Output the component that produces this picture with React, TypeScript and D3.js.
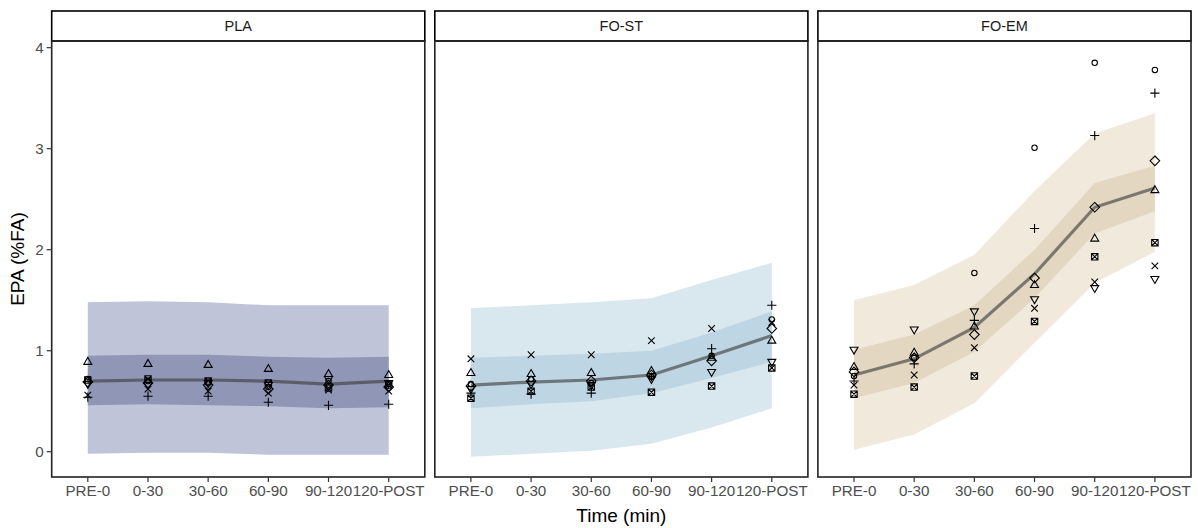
import React from "react";
import * as d3 from "d3";

const timeLabels = ["PRE-0", "0-30", "30-60", "60-90", "90-120", "120-POST"];
const groupNames = ["PLA", "FO-ST", "FO-EM"];
const yTicks = [0, 1, 2, 3, 4];

// model mean and intervals per group
const plaMean = [0.70, 0.71, 0.71, 0.70, 0.67, 0.70];
const plaInnerLo = [0.46, 0.47, 0.46, 0.45, 0.43, 0.44];
const plaInnerHi = [0.95, 0.96, 0.96, 0.94, 0.93, 0.94];
const plaOuterLo = [-0.02, -0.01, -0.01, -0.03, -0.03, -0.03];
const plaOuterHi = [1.48, 1.49, 1.48, 1.45, 1.45, 1.45];

const fostMean = [0.66, 0.69, 0.71, 0.76, 0.95, 1.15];
const fostInnerLo = [0.43, 0.47, 0.50, 0.58, 0.73, 0.89];
const fostInnerHi = [0.93, 0.95, 0.97, 1.00, 1.18, 1.39];
const fostOuterLo = [-0.05, -0.02, 0.01, 0.08, 0.24, 0.43];
const fostOuterHi = [1.42, 1.45, 1.48, 1.52, 1.70, 1.87];

const foemMean = [0.76, 0.92, 1.23, 1.76, 2.42, 2.61];
const foemInnerLo = [0.53, 0.68, 0.99, 1.52, 2.16, 2.38];
const foemInnerHi = [1.01, 1.16, 1.45, 2.00, 2.66, 2.83];
const foemOuterLo = [0.02, 0.17, 0.48, 1.08, 1.67, 1.98];
const foemOuterHi = [1.50, 1.65, 1.95, 2.58, 3.15, 3.35];

// individual subjects (shape order: circle, triangle, plus, cross, diamond, triangleDown, squareCross)
const subjectShapes = ["circle", "triangle", "plus", "cross", "diamond", "triangleDown", "squareCross"];

const plaCircle = [0.72, 0.70, 0.68, 0.64, 0.70, 0.67];
const plaTriangle = [0.89, 0.87, 0.86, 0.82, 0.77, 0.76];
const plaPlus = [0.54, 0.55, 0.55, 0.49, 0.46, 0.47];
const plaCross = [0.56, 0.62, 0.60, 0.58, 0.61, 0.60];
const plaDiamond = [0.69, 0.68, 0.66, 0.62, 0.66, 0.64];
const plaTriDown = [0.67, 0.66, 0.68, 0.66, 0.72, 0.68];
const plaSquare = [0.71, 0.72, 0.70, 0.68, 0.63, 0.66];

const fostCircle = [0.67, 0.72, 0.68, 0.74, 0.95, 1.31];
const fostTriangle = [0.78, 0.77, 0.78, 0.80, 0.93, 1.10];
const fostPlus = [0.58, 0.57, 0.58, 0.74, 1.02, 1.45];
const fostCross = [0.92, 0.96, 0.96, 1.10, 1.22, 1.28];
const fostDiamond = [0.65, 0.70, 0.70, 0.76, 0.90, 1.22];
const fostTriDown = [0.62, 0.67, 0.66, 0.72, 0.79, 0.89];
const fostSquare = [0.53, 0.60, 0.64, 0.59, 0.65, 0.83];

const foemCircle = [0.75, 0.93, 1.77, 3.01, 3.85, 3.78];
const foemTriangle = [0.84, 0.98, 1.24, 1.65, 2.11, 2.59];
const foemPlus = [0.70, 0.87, 1.30, 2.21, 3.13, 3.55];
const foemCross = [0.66, 0.76, 1.03, 1.42, 1.68, 1.84];
const foemDiamond = [0.79, 0.93, 1.16, 1.72, 2.42, 2.88];
const foemTriDown = [1.01, 1.21, 1.39, 1.51, 1.62, 1.71];
const foemSquare = [0.57, 0.64, 0.75, 1.29, 1.93, 2.07];

const groups = [
  {
    name: groupNames[0], mean: plaMean, innerLo: plaInnerLo, innerHi: plaInnerHi, outerLo: plaOuterLo, outerHi: plaOuterHi,
    subjects: [plaCircle, plaTriangle, plaPlus, plaCross, plaDiamond, plaTriDown, plaSquare],
    outerFill: "#bfc4d8", innerFill: "#8f96b6",
  },
  {
    name: groupNames[1], mean: fostMean, innerLo: fostInnerLo, innerHi: fostInnerHi, outerLo: fostOuterLo, outerHi: fostOuterHi,
    subjects: [fostCircle, fostTriangle, fostPlus, fostCross, fostDiamond, fostTriDown, fostSquare],
    outerFill: "#d9e7ef", innerFill: "#bed6e3",
  },
  {
    name: groupNames[2], mean: foemMean, innerLo: foemInnerLo, innerHi: foemInnerHi, outerLo: foemOuterLo, outerHi: foemOuterHi,
    subjects: [foemCircle, foemTriangle, foemPlus, foemCross, foemDiamond, foemTriDown, foemSquare],
    outerFill: "#f1e9dc", innerFill: "#e3d7c1",
  },
];

const W = 1198, H = 528;
const panelLeft0 = 51.7, panelW = 373.1, gap = 10;
const panelTop = 41, panelBottom = 477, stripTop = 11;
const FONT = "'Liberation Sans', Arial, sans-serif";

function shapePath(kind: string): string {
  switch (kind) {
    case "circle": return "M2.7,0A2.7,2.7,0,1,1,-2.7,0A2.7,2.7,0,1,1,2.7,0Z";
    case "triangle": return "M0,-4.4L4,2.5L-4,2.5Z";
    case "triangleDown": return "M0,4.4L4,-2.5L-4,-2.5Z";
    case "plus": return "M-4.6,0H4.6M0,-4.6V4.6";
    case "cross": return "M-3.3,-3.3L3.3,3.3M-3.3,3.3L3.3,-3.3";
    case "diamond": return "M0,-4.8L4.8,0L0,4.8L-4.8,0Z";
    case "squareCross": return "M-3.2,-3.2H3.2V3.2H-3.2ZM-3.2,-3.2L3.2,3.2M-3.2,3.2L3.2,-3.2";
    default: return "";
  }
}

export default function App() {
  const y = d3.scaleLinear().domain([-0.25, 4.066]).range([panelBottom, panelTop]);
  const x = d3.scalePoint<string>().domain(timeLabels).range([0, panelW]).padding(0.6);

  const band = (lo: number[], hi: number[]) =>
    d3.area<number>()
      .x((i) => x(timeLabels[i]) as number)
      .y0((i) => y(lo[i]))
      .y1((i) => y(hi[i]))(d3.range(timeLabels.length)) || "";
  const line = (m: number[]) =>
    d3.line<number>()
      .x((i) => x(timeLabels[i]) as number)
      .y((i) => y(m[i]))(d3.range(timeLabels.length)) || "";

  return (
    <svg width={W} height={H} style={{ position: "absolute", left: 0, top: 0, background: "#fff" }} fontFamily={FONT}>
      <rect x={0} y={0} width={W} height={H} fill="#fff" />
      {groups.map((g, gi) => {
        const left = panelLeft0 + gi * (panelW + gap);
        return (
          <g key={g.name} transform={`translate(${left},0)`}>
            {/* strip */}
            <rect x={0} y={stripTop} width={panelW} height={panelTop - stripTop} fill="#fff" stroke="#000" strokeWidth={1.6} />
            <text x={panelW / 2} y={(stripTop + panelTop) / 2} dy="0.35em" textAnchor="middle" fontSize={14.5} fill="#1a1a1a">{g.name}</text>
            {/* bands */}
            <path d={band(g.outerLo, g.outerHi)} fill={g.outerFill} />
            <path d={band(g.innerLo, g.innerHi)} fill={g.innerFill} />
            <path d={line(g.mean)} fill="none" stroke="rgba(60,60,60,0.62)" strokeWidth={3.2} />
            {/* points */}
            {g.subjects.map((vals, si) =>
              vals.map((v, ti) => (
                <path key={`${si}-${ti}`} d={shapePath(subjectShapes[si])}
                  transform={`translate(${x(timeLabels[ti])},${y(v)})`}
                  fill="none" stroke="#000" strokeWidth={1.1} />
              ))
            )}
            {/* panel border */}
            <rect x={0} y={panelTop} width={panelW} height={panelBottom - panelTop} fill="none" stroke="#222" strokeWidth={1.6} />
            {/* x axis ticks */}
            {timeLabels.map((t) => (
              <g key={t} transform={`translate(${x(t)},${panelBottom})`}>
                <line y1={0} y2={5} stroke="#333" strokeWidth={1.2} />
                <text y={19} textAnchor="middle" fontSize={15.2} fill="#4d4d4d">{t}</text>
              </g>
            ))}
            {gi === 0 && yTicks.map((t) => (
              <g key={t} transform={`translate(0,${y(t)})`}>
                <line x1={-5} x2={0} stroke="#333" strokeWidth={1.2} />
                <text x={-8} dy="0.35em" textAnchor="end" fontSize={15.2} fill="#4d4d4d">{t}</text>
              </g>
            ))}
          </g>
        );
      })}
      <text x={panelLeft0 + (3 * panelW + 2 * gap) / 2} y={522} textAnchor="middle" fontSize={19} fill="#000">Time (min)</text>
      <text transform={`translate(24,${(panelTop + panelBottom) / 2}) rotate(-90)`} textAnchor="middle" fontSize={19} fill="#000">EPA (%FA)</text>
    </svg>
  );
}
